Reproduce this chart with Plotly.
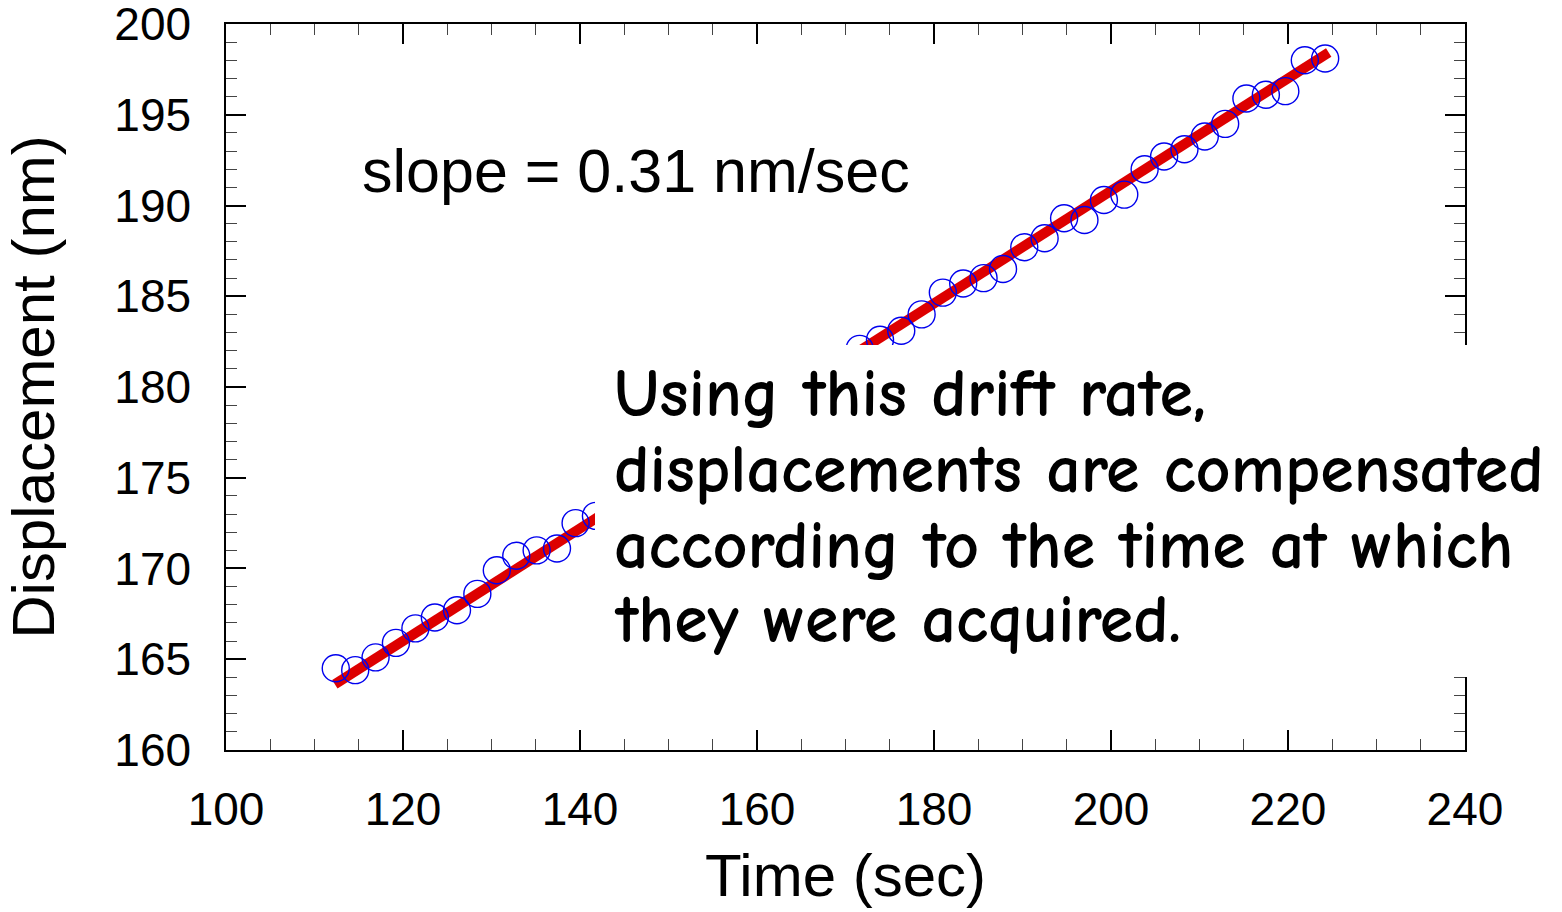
import plotly.graph_objects as go

# Measured drift: time (sec) and displacement (nm)
time_sec = [112.4, 114.6, 116.9, 119.2, 121.4, 123.6, 126.1, 128.4, 130.6, 132.8,
            135.1, 137.4, 139.5, 141.8,
            169.4, 171.6, 173.9, 176.3, 178.6, 181.0, 183.3, 185.6, 187.8, 190.2,
            192.5, 194.7, 197.0, 199.2, 201.5, 203.8, 206.0, 208.3, 210.6, 212.9,
            215.3, 217.5, 219.7, 221.9, 224.2]
displacement_nm = [164.5, 164.4, 165.1, 165.9, 166.7, 167.3, 167.7, 168.6, 169.9, 170.7,
                   171.0, 171.1, 172.5, 172.9,
                   181.5, 182.1, 182.6, 183.1, 184.0, 185.2, 185.7, 186.0, 186.5, 187.7,
                   188.2, 189.3, 189.2, 190.3, 190.6, 192.0, 192.7, 193.1, 193.8, 194.5,
                   195.9, 196.1, 196.3, 198.0, 198.1]

# Linear drift fit
slope = 0.31
fit_center = (168.5, 181.04)
fit_x = [112.3, 224.6]
fit_y = [fit_center[1] + slope * (x - fit_center[0]) for x in fit_x]

slope_label = f"slope = {slope:.2f} nm/sec"
note_lines = ["Using this drift rate,",
              "displacements are compensated",
              "according to the time at which",
              "they were acquired."]

SANS = "Liberation Sans, Arial, sans-serif"
HAND = "Comic Sans MS, Comic Neue, Open Sans, sans-serif"

# plot area in pixels (figure 1562 x 912)
PLOT_LEFT, PLOT_RIGHT, PLOT_TOP, PLOT_BOTTOM = 226, 1465, 24, 750
FIG_W, FIG_H = 1562, 912


def px_to_paper_x(px):
    return (px - PLOT_LEFT) / (PLOT_RIGHT - PLOT_LEFT)


def px_to_paper_y(py):
    return (PLOT_BOTTOM - py) / (PLOT_BOTTOM - PLOT_TOP)


fig = go.Figure()
fig.add_trace(go.Scatter(x=fit_x, y=fit_y, mode="lines",
                         line=dict(color="#dd0000", width=10),
                         showlegend=False, hoverinfo="skip"))
fig.add_trace(go.Scatter(x=time_sec, y=displacement_nm, mode="markers",
                         marker=dict(symbol="circle-open", size=27,
                                     color="#0000ee", line=dict(width=1.4, color="#0000ee")),
                         showlegend=False))

axis_common = dict(
    showline=True, linecolor="black", linewidth=1.5,
    mirror="allticks", ticks="inside", ticklen=20, tickwidth=1.5, tickcolor="black",
    showgrid=False, zeroline=False, ticklabeloverflow="allow",
    tickfont=dict(family=SANS, size=46, color="black"),
)

fig.update_xaxes(range=[99.999, 240.001], dtick=20, tick0=100,
                 minor=dict(dtick=5, ticks="inside", ticklen=11, tickwidth=1.2, tickcolor="#444"),
                 title=dict(text="Time (sec)", font=dict(family=SANS, size=60, color="black"),
                            standoff=20),
                 ticklabelstandoff=18,
                 **axis_common)
fig.update_yaxes(range=[159.999, 200.001], dtick=5, tick0=160,
                 minor=dict(dtick=1, ticks="inside", ticklen=11, tickwidth=1.2, tickcolor="#444"),
                 title=dict(text="Displacement (nm)", font=dict(family=SANS, size=60, color="black"),
                            standoff=40),
                 ticklabelstandoff=24,
                 **axis_common)

# White panel carrying the explanatory note
fig.add_shape(type="rect", xref="paper", yref="paper",
              x0=px_to_paper_x(595), x1=px_to_paper_x(FIG_W + 5),
              y0=px_to_paper_y(677), y1=px_to_paper_y(345),
              fillcolor="white", line=dict(width=0), layer="above")

fig.add_annotation(x=115.1, y=191.9, xref="x", yref="y", text=slope_label,
                   showarrow=False, xanchor="left", yanchor="middle",
                   font=dict(family=SANS, size=61, color="black"))

NOTE_SIZE = 68
note_baselines = [418, 494, 570, 644]
for line, base in zip(note_lines, note_baselines):
    fig.add_annotation(x=px_to_paper_x(612), y=px_to_paper_y(base - 0.35 * NOTE_SIZE),
                       xref="paper", yref="paper", text=line, align="left",
                       showarrow=False, xanchor="left", yanchor="middle",
                       font=dict(family=HAND, size=NOTE_SIZE, color="black", weight="bold"))

fig.update_layout(width=FIG_W, height=FIG_H,
                  margin=dict(l=PLOT_LEFT, r=FIG_W - PLOT_RIGHT, t=PLOT_TOP,
                              b=FIG_H - PLOT_BOTTOM, autoexpand=False),
                  plot_bgcolor="white", paper_bgcolor="white")

fig.write_html("out.html")
